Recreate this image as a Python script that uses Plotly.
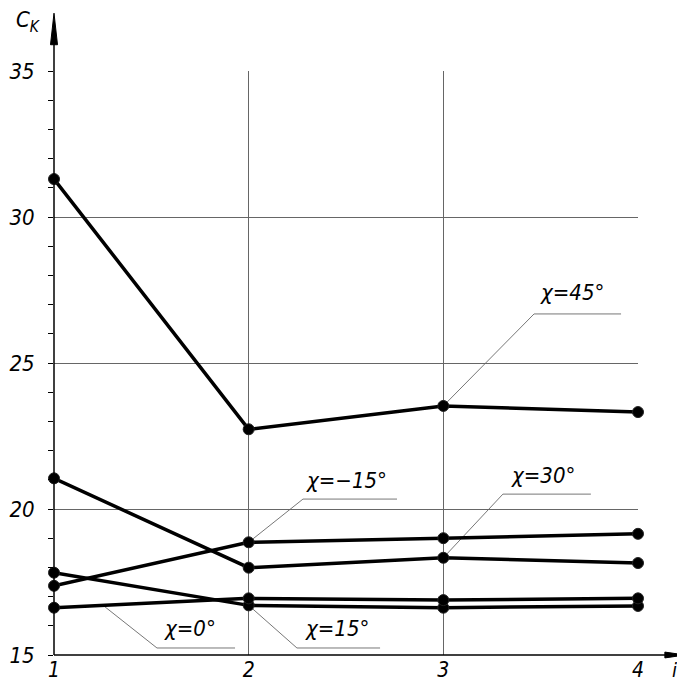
import plotly.graph_objects as go

# ---- data ----
i_vals = [1, 2, 3, 4]
chi45 = [31.3, 22.73, 23.53, 23.32]
chi30 = [21.05, 17.99, 18.33, 18.15]
chim15 = [17.37, 18.86, 19.0, 19.15]
chi15 = [17.82, 16.70, 16.62, 16.68]
chi0 = [16.62, 16.94, 16.88, 16.94]

series = [chi45, chi30, chim15, chi15, chi0]
y_ticks = [15, 20, 25, 30, 35]
x_ticks = [1, 2, 3, 4]

FONT = "DejaVu Sans Condensed, Liberation Sans Narrow, sans-serif"

fig = go.Figure()
for s in series:
    fig.add_trace(go.Scatter(
        x=i_vals, y=s, mode="lines+markers",
        line=dict(color="black", width=3.5),
        marker=dict(symbol="circle", size=11, color="black",
                    line=dict(color="#222", width=1)),
        showlegend=False, cliponaxis=False))

# leader lines: (start data point, elbow, end)
leaders = [
    ((3, chi45[2]), (3.466, 26.68), 3.913, "χ=45°", (3.66, 27.4)),
    ((3, chi30[2]), (3.306, 20.51), 3.758, "χ=30°", (3.51, 21.16)),
    ((2, chim15[1]), (2.279, 20.34), 2.762, "χ=−15°", (2.505, 20.99)),
    ((2, chi15[1]), (2.248, 15.24), 2.675, "χ=15°", (2.454, 15.92)),
    ((1.252, chi0[0] + 0.252 * (chi0[1] - chi0[0])), (1.529, 15.24), 1.930, "χ=0°", (1.70, 15.92)),
]
shapes = []
annotations = []
for (sx, sy), (ex, ey), endx, txt, (tx, ty) in leaders:
    shapes.append(dict(type="line", xref="x", yref="y", x0=sx, y0=sy, x1=ex, y1=ey,
                       line=dict(color="#777", width=1), layer="below"))
    shapes.append(dict(type="line", xref="x", yref="y", x0=ex, y0=ey, x1=endx, y1=ey,
                       line=dict(color="#777", width=1), layer="below"))
    annotations.append(dict(x=tx, y=ty, xref="x", yref="y", text=txt, showarrow=False,
                            font=dict(family=FONT, size=22, color="black", style="italic")))

# axis lines with arrows (paper coords)
shapes += [
    dict(type="line", xref="paper", yref="paper", x0=0, y0=0, x1=0, y1=1.06,
         line=dict(color="black", width=1.5)),
    dict(type="path", xref="paper", yref="paper",
         path="M -0.006,1.045 L 0,1.099 L 0.006,1.045 Z",
         fillcolor="black", line=dict(color="black", width=1)),
    dict(type="line", xref="paper", yref="paper", x0=0, y0=0, x1=1.06, y1=0,
         line=dict(color="black", width=1.5)),
    dict(type="path", xref="paper", yref="paper",
         path="M 1.046,-0.005 L 1.0805,0 L 1.046,0.005 Z",
         fillcolor="black", line=dict(color="black", width=1)),
]
annotations += [
    dict(x=-0.045, y=1.084, xref="paper", yref="paper", text="C<sub>K</sub>", showarrow=False,
         xanchor="center", yanchor="middle",
         font=dict(family=FONT, size=22, color="black", style="italic")),
    dict(x=1.062, y=-0.026, xref="paper", yref="paper", text="i", showarrow=False,
         xanchor="center", yanchor="middle",
         font=dict(family=FONT, size=20, color="black", style="italic")),
]

fig.update_layout(
    width=677, height=678,
    margin=dict(l=46, r=47, t=63, b=31),
    plot_bgcolor="white", paper_bgcolor="white",
    shapes=shapes, annotations=annotations,
    xaxis=dict(range=[1, 4], tickvals=x_ticks, ticktext=[str(v) for v in x_ticks],
               showgrid=True, gridcolor="#666", gridwidth=1, zeroline=False,
               showline=False, ticks="", ticklabelstandoff=0, automargin=False,
               tickfont=dict(family=FONT, size=21, color="black", style="italic")),
    yaxis=dict(range=[15, 35], tickvals=y_ticks, ticktext=[str(v) for v in y_ticks],
               showgrid=True, gridcolor="#666", gridwidth=1, zeroline=False,
               showline=False, ticks="outside", ticklen=5, tickcolor="black",
               ticklabelstandoff=9, automargin=False,
               minor=dict(dtick=1, ticks="outside", ticklen=5, tickcolor="black", showgrid=False),
               tickfont=dict(family=FONT, size=22, color="black", style="italic")),
)

fig.write_html("out.html")
